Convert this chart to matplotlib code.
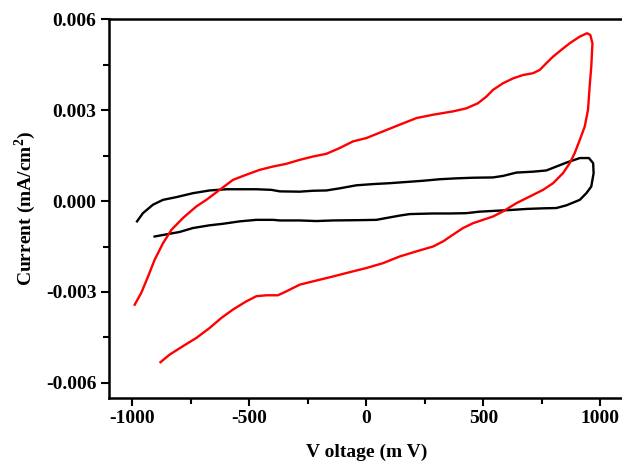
import matplotlib
matplotlib.use("Agg")
import matplotlib.pyplot as plt
from matplotlib.ticker import MultipleLocator, FormatStrFormatter

# red curve (mV, mA/cm2)
red_v = [-880, -841, -784, -727, -670, -620, -570, -513, -470, -427, -378, -342, -285, -228,
         -143, -57, 0, 71, 142, 214, 285, 328, 370, 413, 456, 498, 541, 584, 641, 698, 755,
         798, 840, 869, 890, 912, 933, 947, 954, 961, 966, 957, 943,
         912, 869, 833, 798, 769, 741, 712, 669, 627, 584, 541, 513, 477, 427, 370, 285, 214,
         142, 71, 0, -57, -114, -171, -228, -285, -342, -399, -456, -513, -570, -627, -684,
         -727, -784, -833, -869, -905, -933, -962, -990]
red_i = [-0.00532, -0.00507, -0.00479, -0.00452, -0.00419, -0.00386, -0.00358, -0.00331,
         -0.00314, -0.00311, -0.00311, -0.00298, -0.00276, -0.00265, -0.00249, -0.00232,
         -0.00221, -0.00205, -0.00183, -0.00166, -0.00150, -0.00133, -0.00111, -0.00089,
         -0.00073, -0.00062, -0.00051, -0.00034, -0.00007, 0.00015, 0.00037, 0.00059, 0.00092,
         0.00125, 0.00158, 0.00202, 0.00246, 0.00301, 0.00378, 0.00444, 0.00521, 0.00548, 0.00554,
         0.00543, 0.00521, 0.00499, 0.00477, 0.00455, 0.00433, 0.00422, 0.00416, 0.00405,
         0.00389, 0.00367, 0.00345, 0.00323, 0.00306, 0.00296, 0.00285, 0.00274, 0.00252,
         0.00230, 0.00208, 0.00197, 0.00175, 0.00156, 0.00147, 0.00136, 0.00123, 0.00114,
         0.00103, 0.00087, 0.00070, 0.00037, 0.00004, -0.00018, -0.00056, -0.00095, -0.00139,
         -0.00194, -0.00249, -0.00303, -0.00342]

# black curve
black_v = [-980, -955, -912, -869, -812, -741, -670, -598, -527, -470, -406, -370, -285, -228,
           -171, -114, -43, 28, 100, 171, 242, 313, 385, 456, 541, 584, 641, 712, 769, 812,
           855, 912, 951, 969, 971, 961, 940, 912, 855, 812, 755, 684, 627, 555, 484, 427,
           356, 285, 185, 142, 85, 43, -29, -143, -214, -285, -370, -399, -470, -541, -613,
           -670, -741, -798, -855, -905]
black_i = [-0.00067, -0.00040, -0.00012, 0.00004, 0.00013, 0.00026, 0.00035, 0.00039, 0.00039,
           0.00039, 0.00037, 0.00032, 0.00031, 0.00034, 0.00035, 0.00042, 0.00052, 0.00056,
           0.00059, 0.00063, 0.00067, 0.00072, 0.00075, 0.00077, 0.00078, 0.00083, 0.00094,
           0.00097, 0.00101, 0.00114, 0.00127, 0.00142, 0.00142, 0.00125, 0.00092, 0.00048,
           0.00026, 0.00004, -0.00014, -0.00023, -0.00024, -0.00026, -0.00029, -0.00032,
           -0.00035, -0.00040, -0.00041, -0.00041, -0.00043, -0.00048, -0.00056, -0.00062,
           -0.00063, -0.00064, -0.00066, -0.00064, -0.00064, -0.00062, -0.00062, -0.00067,
           -0.00075, -0.00080, -0.00089, -0.00102, -0.00110, -0.00117]

plt.rcParams['font.family'] = ['Liberation Serif', 'DejaVu Serif']
plt.rcParams['font.weight'] = 'bold'
plt.rcParams['axes.unicode_minus'] = False
plt.rcParams['mathtext.fontset'] = 'custom'
plt.rcParams['mathtext.rm'] = 'Liberation Serif:bold'
plt.rcParams['mathtext.bf'] = 'Liberation Serif:bold'

fig = plt.figure(figsize=(6.22, 4.67), dpi=100)
ax = fig.add_axes([0.1752, 0.1478, 0.8277, 0.8109])

ax.plot(black_v, black_i, color='black', lw=1.7)
ax.plot(red_v, red_i, color='red', lw=1.7)

ax.set_xlim(-1100, 1100)
ax.set_ylim(-0.0065, 0.006)

ax.xaxis.set_major_locator(MultipleLocator(500))
ax.xaxis.set_minor_locator(MultipleLocator(250))
ax.yaxis.set_major_locator(MultipleLocator(0.003))
ax.yaxis.set_minor_locator(MultipleLocator(0.0015))
ax.yaxis.set_major_formatter(FormatStrFormatter('%.3f'))
ax.tick_params(which='major', direction='out', length=6, width=1.5, labelsize=14, pad=3)
ax.tick_params(which='minor', direction='out', length=4, width=1.5)
for s in ax.spines.values():
    s.set_linewidth(1.8)

ax.set_xlabel('V oltage (m V)', fontsize=14, fontweight='bold', labelpad=12)
ax.set_ylabel(r'Current (mA/cm$^{\mathbf{2}}$)', fontsize=14, fontweight='bold', labelpad=6)

fig.savefig('out.png', dpi=100)
